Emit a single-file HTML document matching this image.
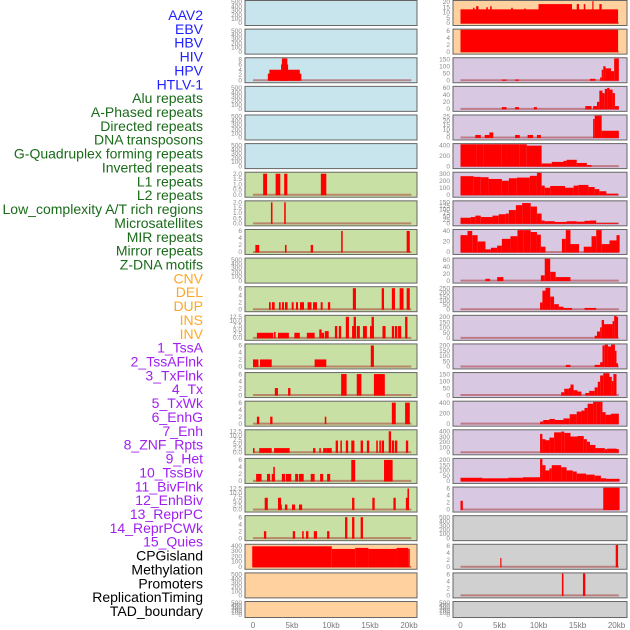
<!DOCTYPE html>
<html><head><meta charset="utf-8">
<style>
html,body{margin:0;padding:0;background:#fff;}
svg{display:block;}
.lab{font-family:"Liberation Sans",sans-serif;font-size:14px;}
.tk{font-family:"Liberation Sans",sans-serif;font-size:6.5px;fill:#888;}
.ax{font-family:"Liberation Sans",sans-serif;font-size:8px;fill:#777;}
</style></head>
<body>
<svg id="chart" width="630" height="630" viewBox="0 0 630 630" xmlns="http://www.w3.org/2000/svg"></svg>
<script>
const trackLabels = ["AAV2","EBV","HBV","HIV","HPV","HTLV-1","Alu repeats","A-Phased repeats","Directed repeats","DNA transposons","G-Quadruplex forming repeats","Inverted repeats","L1 repeats","L2 repeats","Low_complexity A/T rich regions","Microsatellites","MIR repeats","Mirror repeats","Z-DNA motifs","CNV","DEL","DUP","INS","INV","1_TssA","2_TssAFlnk","3_TxFlnk","4_Tx","5_TxWk","6_EnhG","7_Enh","8_ZNF_Rpts","9_Het","10_TssBiv","11_BivFlnk","12_EnhBiv","13_ReprPC","14_ReprPCWk","15_Quies","CPGisland","Methylation","Promoters","ReplicationTiming","TAD_boundary"];
const labelGroups = ["v","v","v","v","v","v","r","r","r","r","r","r","r","r","r","r","r","r","r","s","s","s","s","s","c","c","c","c","c","c","c","c","c","c","c","c","c","c","c","o","o","o","o","o"];
const xTickLabels = ["0","5kb","10kb","15kb","20kb"];
const xTickValues = [0,5,10,15,20];

const E = [];
const T500 = [0,100,200,300,400,500];
const T6 = [0,2,4,6];
const T2 = [0,0.5,1,1.5,2];
const T12 = [0,2.5,5,7.5,10,12.5];

const L0=E, L1=E, L3=E, L4=E, L5=E, L9=E, L20=E, L21=E;
const L2=[[1.9,6.2,2.5],[2.1,6.0,4],[3.6,4.5,6],[3.7,4.4,8.3]];
const L6=[[1.3,1.8,2],[2.9,3.5,2],[4.0,4.4,2],[8.7,9.4,2]];
const L7=[[2.3,2.5,2],[4.0,4.2,2]];
const L8=[[0.3,0.8,2],[4.1,4.3,2],[7.4,7.7,2],[11.3,11.5,6],[19.7,20.1,6]];
const L10=[[2.05,2.27,2],[2.44,2.78,2],[3.33,3.55,2],[3.72,3.97,2],[4.1,4.44,2],[4.96,5.21,2],[5.51,5.77,2],[6.03,6.54,2],[7.0,7.5,2],[7.7,8.2,2],[8.68,8.93,2],[9.6,9.9,2],[12.8,13.2,6],[16.5,16.8,6],[17.8,18.2,6],[18.8,19.3,6],[19.7,20.1,6]];
const L11=[[0.5,2.6,3],[2.7,2.9,3.5],[3.2,4.6,3],[5.3,6.0,3],[6.9,7.9,3],[8.5,8.8,5],[8.8,9.1,3],[9.2,9.7,4],[10.5,10.8,7],[11.0,11.3,7],[11.9,12.3,12.5],[12.7,13.2,7],[12.9,13.2,12.5],[13.3,13.7,7],[14.1,14.6,7],[15.0,15.5,7],[15.2,15.5,12.5],[16.6,17.0,7],[17.8,18.1,7],[18.2,18.5,7],[18.6,19.0,7],[19.5,19.8,12.5]];
const L12=[[0,0.7,2],[0.9,2.4,2],[7.9,9.4,2],[15.1,15.5,6]];
const L13=[[2.8,3.2,2],[4.5,4.8,2],[11.3,12.0,6],[13.3,13.9,6],[15.5,16.9,6]];
const L14=[[0.5,0.8,2],[2.2,2.5,2],[9.2,9.4,2],[17.8,18.3,6],[19.5,20.1,6]];
const L15=[[0,0.2,2.5],[0.8,2.4,2.5],[2.7,4.7,2.5],[7.7,8.0,2.5],[8.5,8.7,2.5],[9.0,9.4,2.5],[9.4,10.1,2.5],[10.6,10.9,7],[11.2,11.4,7],[11.9,12.2,7],[12.6,13.0,7],[13.8,14.1,7],[14.6,14.9,7],[15.8,16.0,7],[16.2,16.4,7],[16.5,16.8,7],[17.4,17.7,12.5],[17.8,18.1,7],[18.2,18.5,7],[19.6,19.9,7]];
const L16=[[0.4,1.1,2],[1.8,2.2,2],[2.4,2.8,2],[2.6,2.8,4],[3.7,4.1,2],[4.2,4.9,2],[5.4,5.8,2],[5.9,6.5,2],[7.4,7.9,2],[8.6,9.0,2],[9.5,9.9,2],[12.6,13.1,6],[16.8,17.9,6]];
const L17=[[1.5,1.9,7],[3.2,3.6,7],[3.5,3.7,3],[4.1,4.4,3],[5.0,5.4,3],[5.9,6.3,3],[12.7,13.0,7],[15.3,15.6,7],[18.0,18.3,7],[19.6,20.0,7],[19.8,20.0,12.5]];
const L18=[[1.4,1.7,2],[5.1,5.4,2],[6.3,6.5,2],[6.8,7.1,2],[7.8,8.2,2],[9.5,9.8,2],[11.8,12.1,6],[12.7,13.0,6],[13.8,14.1,6]];
const L19=[[-0.1,10.1,390],[10.1,13.1,340],[13.1,14.8,360],[14.8,18.4,340],[18.4,19.9,360],[19.9,20.1,340]];

const R0=[[0,20.2,13],[10.0,14.3,18],[1.6,1.8,14.5],[2.0,2.3,16],[3.3,3.5,15],[3.8,4.0,16],[6.5,6.7,14.5],[8.2,8.3,14],[14.9,15.2,18],[15.8,16.0,18],[16.9,17.0,22],[17.8,18.1,18]];
const R1=[[0,20.2,6.3]];
const R2=[[5.3,5.9,5],[7.0,7.5,5],[16.6,17.3,10],[17.9,18.1,20],[18.1,18.3,75],[18.3,18.6,100],[18.6,19.3,85],[19.3,19.7,65],[19.7,20.0,155],[20.0,20.3,170]];
const R3=[[5.3,5.9,5],[7.0,7.5,5],[9.4,9.8,5],[16.0,16.8,8],[17.0,17.5,8],[17.5,17.8,20],[17.8,18.2,52],[18.2,18.5,45],[18.5,18.8,57],[18.8,19.1,60],[19.1,19.5,55],[19.5,19.8,45],[19.8,20.3,8]];
const R4=[[1.9,2.6,3],[3.1,3.7,3],[3.7,4.2,6],[7.0,7.6,3],[8.6,9.3,3],[9.8,10.3,3],[17.0,17.2,22],[17.2,18.1,27],[18.1,18.4,8],[18.4,20.3,8]];
const R5=[[0,2.1,470],[2.1,2.9,500],[2.9,5.3,550],[5.3,5.9,520],[5.9,7.6,480],[7.6,8.5,420],[8.5,10.4,390],[10.4,11.7,50],[11.7,13.2,80],[13.2,13.6,100],[13.6,14.9,120],[14.9,16.2,60],[16.2,16.8,20]];
const R6=[[0,1.7,265],[1.7,2.6,255],[2.6,3.6,250],[3.6,5.3,225],[5.3,6.2,200],[6.2,7.2,235],[7.2,8.9,245],[8.9,9.8,270],[9.8,10.4,320],[10.4,10.8,130],[10.8,11.5,100],[11.5,13.4,125],[13.4,14.5,100],[14.5,15.1,130],[15.1,16.4,140],[16.4,17.2,110],[17.2,17.8,80],[17.8,18.7,50],[18.7,20.2,15]];
const R7=[[0,1.3,40],[1.3,1.9,45],[1.9,2.6,55],[2.6,4.1,45],[4.1,4.9,55],[4.9,5.8,65],[5.8,6.2,70],[6.2,7.1,95],[7.1,7.9,130],[7.9,9.0,145],[9.0,9.8,120],[9.8,10.4,70],[10.4,10.8,20],[10.8,12.1,15],[12.1,13.6,10],[13.6,14.9,15],[14.9,15.9,12],[15.9,16.6,18],[16.6,17.4,20],[17.4,20.2,2]];
const R8=[[0,0.9,32],[0.9,1.5,40],[1.5,2.2,32],[2.2,3.2,20],[3.2,3.9,5],[3.9,4.7,8],[4.7,5.3,12],[5.3,6.4,25],[6.4,7.3,30],[7.3,8.1,43],[8.1,9.0,50],[9.0,9.8,38],[9.8,10.3,33],[10.3,10.9,10],[13.0,13.5,25],[13.5,14.1,48],[14.1,15.2,15],[15.8,16.8,10],[16.8,17.4,30],[17.4,18.1,52],[18.1,19.1,15],[19.1,20.0,22],[20.0,20.4,32]];
const R9=[[3.2,3.8,5],[4.7,5.5,10],[10.3,10.8,15],[10.8,11.5,65],[11.5,12.2,25],[12.2,14.1,10]];
const R10=[[10.2,10.5,80],[10.5,10.9,220],[10.9,11.5,255],[11.5,12.0,150],[12.0,12.6,60],[12.6,13.2,30],[13.2,14.3,15],[15.9,17.4,15]];
const R11=[[17.2,17.5,20],[17.5,17.9,60],[17.9,18.1,100],[18.1,18.4,170],[18.4,19.5,130],[19.5,19.7,160],[19.7,20.0,230],[20.0,20.2,200]];
const R12=[[13.5,14.1,15],[17.2,17.9,15],[17.9,18.2,40],[18.2,18.5,200],[18.5,18.9,210],[18.9,19.3,190],[19.3,19.8,210],[19.8,20.0,150],[20.0,20.2,30]];
const R13=[[12.9,13.3,20],[13.3,13.9,45],[13.9,14.1,50],[14.1,14.5,75],[14.5,15.0,35],[15.0,15.5,25],[16.0,16.5,15],[16.5,17.2,30],[17.2,17.6,55],[17.6,17.9,95],[17.9,18.3,140],[18.3,19.1,160],[19.1,19.4,130],[19.4,19.6,100],[19.6,20.0,150]];
const R14=[[10.2,10.6,40],[10.6,11.4,70],[11.4,12.1,90],[12.1,13.2,70],[13.2,14.0,100],[14.0,14.9,180],[14.9,15.5,230],[15.5,15.9,250],[15.9,16.3,300],[16.3,17.0,380],[17.0,17.4,460],[17.4,18.0,530],[18.0,18.2,450],[18.2,18.6,220],[18.6,19.3,170],[19.3,20.3,190]];
const R15=[[10.2,10.5,350],[10.5,10.9,250],[10.9,11.4,230],[11.4,12.0,280],[12.0,12.9,380],[12.9,13.3,395],[13.3,14.1,370],[14.1,15.0,300],[15.0,15.8,310],[15.8,16.2,250],[16.2,16.6,200],[16.6,17.3,140],[17.3,18.5,80],[18.5,18.8,60],[18.8,20.0,70],[20.0,20.3,60]];
const R16=[[0,2.8,30],[2.8,6.1,25],[6.1,8.0,30],[8.0,10.2,35],[10.2,10.5,215],[10.5,10.9,150],[10.9,11.4,100],[11.4,11.7,120],[11.7,12.9,150],[12.9,13.6,130],[13.6,14.4,100],[14.4,14.9,90],[14.9,16.1,70],[16.1,17.2,60],[17.2,18.0,50],[18.0,18.7,25],[18.7,20.4,20]];
const R17=[[0,0.3,2.5],[18.3,20.4,6.3]];
const R18=E, R21=E;
const R19=[[5.1,5.25,2.5],[19.9,20.2,6.3]];
const R20=[[13.0,13.2,6.3],[15.7,16.0,6.3]];

const leftSeries=[L0,L1,L2,L3,L4,L5,L6,L7,L8,L9,L10,L11,L12,L13,L14,L15,L16,L17,L18,L19,L20,L21];
const leftTicks=[T500,T500,[0,2,4,6,8],T500,T500,T500,T2,T2,T6,T500,T6,T12,T6,T6,T6,T12,T6,T12,T6,[0,100,200,300,400],T500,T500];
const leftBg="bbbbbbgggggggggggggooo";
const rightSeries=[R0,R1,R2,R3,R4,R5,R6,R7,R8,R9,R10,R11,R12,R13,R14,R15,R16,R17,R18,R19,R20,R21];
const rightTicks=[[0,5,10,15,20],T6,[0,50,100,150],[0,20,40,60],[0,5,10,15,20,25],[0,200,400],[0,100,200,300],[0,25,50,75,100,125,150],[0,20,40],[0,20,40,60],[0,50,100,150,200,250],[0,50,100,150,200],[0,50,100,150,200],[0,50,100,150],[0,200,400],[0,100,200,300,400],[0,50,100,150,200],T6,T500,T6,T6,T500];
const rightBg="ooppppppppppppppppyyyyy";

const NS="http://www.w3.org/2000/svg";
const svg=document.getElementById("chart");
function mk(tag,attrs,parent){const e=document.createElementNS(NS,tag);for(const k in attrs)e.setAttribute(k,attrs[k]);(parent||svg).appendChild(e);return e;}
const bgColors={b:"#c8e4ec",g:"#c8e0a4",o:"#ffd19e",p:"#d8c8e2",y:"#d0d0d0"};
const groupColors={v:"#1f1fff",r:"#1a6b1a",s:"#ffa726",c:"#a020f0",o:"#000"};

const labTop=15, labPitch=(611-15)/(trackLabels.length-1);
trackLabels.forEach((t,i)=>{
  const el=mk("text",{x:203,y:(labTop+i*labPitch+5).toFixed(1),"text-anchor":"end",class:"lab",fill:groupColors[labelGroups[i]]});
  
  
  el.textContent=t;
});

function xScale(col,kb){const x0=col===0?253:460.5;return x0+kb*7.8;}
const rowPitch=28.62;
function drawPanel(col,i,segs,ticks,bg){
  const top=0.5+i*rowPitch;
  const h=(i===21)?16:25;
  const left=col===0?245:453, right=col===0?417:627;
  const g=mk("g",{});
  
  
  mk("rect",{x:left,y:top,width:right-left,height:h,fill:bgColors[bg],stroke:"#666","stroke-width":1},g);
  const y0=top+h-2.5, yTop=top+1.5;
  const ymax=ticks[ticks.length-1];
  const dec=ticks.some(t=>t%1!==0);
  const ys=v=>y0-(v/ymax)*(y0-yTop);
  ticks.forEach(t=>{
    const tx=mk("text",{x:left-3,y:(ys(t)+2.2).toFixed(1),"text-anchor":"end",class:"tk"},g);
    
    
    tx.textContent=dec?t.toFixed(1):String(t);
  });
  if(segs.length){
    mk("line",{x1:xScale(col,0),x2:xScale(col,20.3),y1:y0,y2:y0,stroke:"rgba(170,60,60,0.55)","stroke-width":2},g);
    segs.forEach(s=>{
      const v=Math.min(s[2],ymax*1.04);
      const xa=xScale(col,s[0]), xb=xScale(col,s[1]);
      const r=mk("rect",{x:xa.toFixed(2),y:ys(v).toFixed(2),width:Math.max(1.2,xb-xa).toFixed(2),height:(y0-ys(v)+0.5).toFixed(2),fill:"#ff0000"},g);
      
      
    });
  }
}
leftSeries.forEach((s,i)=>drawPanel(0,i,s,leftTicks[i],leftBg[i]));
rightSeries.forEach((s,i)=>drawPanel(1,i,s,rightTicks[i],rightBg[i]));

[0,1].forEach(col=>{
  xTickValues.forEach((v,k)=>{
    const t=mk("text",{x:xScale(col,v).toFixed(1),y:628,"text-anchor":"middle",class:"ax"});
    
    
    t.textContent=xTickLabels[k];
  });
});
</script>
</body></html>
